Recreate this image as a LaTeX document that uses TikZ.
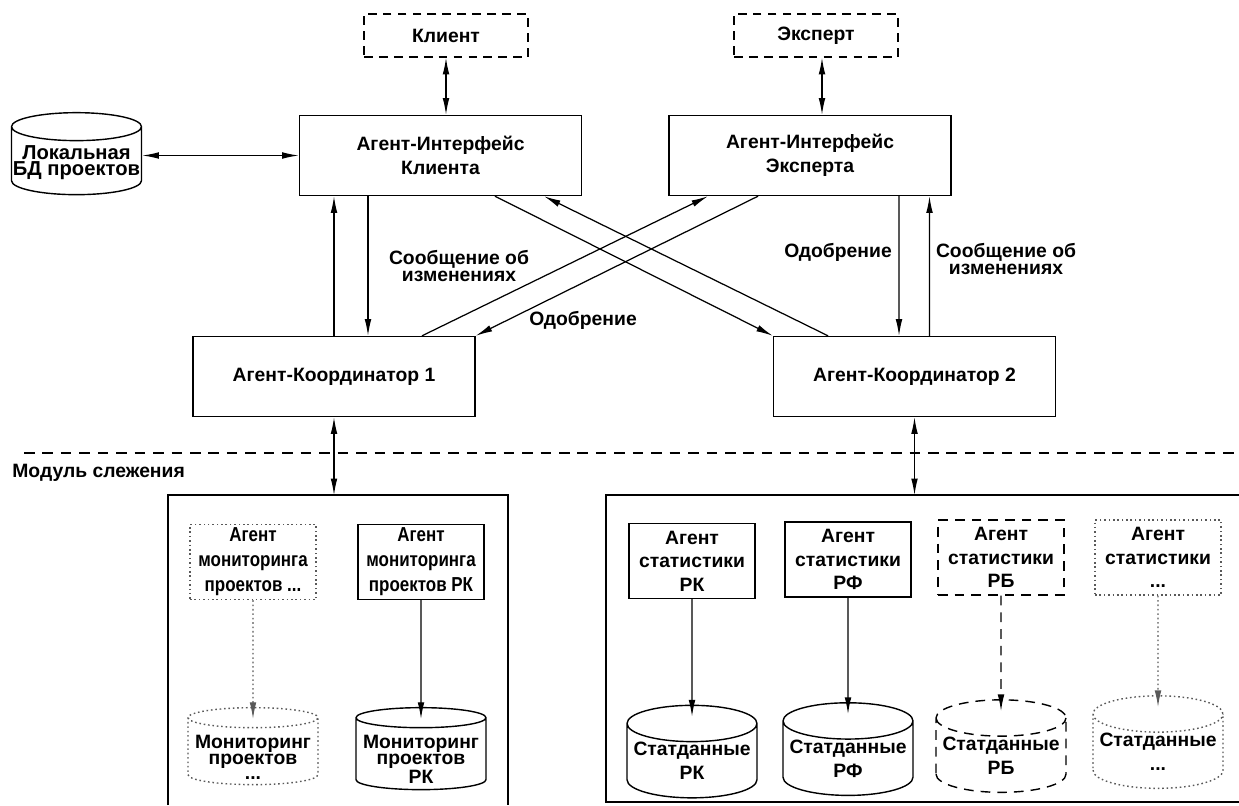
\documentclass[tikz,border=0pt]{standalone}
\usepackage{fontspec}
\setmainfont{Liberation Sans}
\newfontfamily\narrowfont{Liberation Sans}[FakeStretch=0.84]
\usetikzlibrary{calc}
\usetikzlibrary{positioning}
\usetikzlibrary{shapes.geometric}
\usetikzlibrary{arrows.meta}
\tikzstyle{bigbox} = [draw, rectangle, line width=0.8pt, minimum width=5.64cm, minimum height=1.6cm, align=center, font=\bfseries\fontsize{11}{13.6}\selectfont]
\tikzstyle{userbox} = [draw, rectangle, dash pattern=on 5pt off 3.5pt, line width=0.8pt, minimum width=3.28cm, minimum height=0.86cm, font=\bfseries\fontsize{11}{13}\selectfont]
\tikzstyle{smallbox} = [draw, rectangle, line width=0.8pt, minimum width=2.52cm, minimum height=1.5cm, align=center, inner sep=1pt, font=\bfseries\fontsize{11}{13.4}\selectfont]
\tikzstyle{monfont} = [font=\narrowfont\bfseries\fontsize{11.5}{14.2}\selectfont]
\tikzstyle{dbnode} = [draw, cylinder, shape border rotate=90, aspect=0.31, line width=0.8pt, minimum width=2.6cm, minimum height=1.56cm, align=center, inner sep=0pt, font=\bfseries\fontsize{11}{13.6}\selectfont]
\tikzstyle{dbtext} = [align=center, inner sep=0pt, font=\bfseries\fontsize{11}{9}\selectfont]
\tikzstyle{dashedline} = [dash pattern=on 5.5pt off 4pt]
\tikzstyle{dottedline} = [dash pattern=on 0.9pt off 1.6pt, draw=black!65]
\tikzstyle{msg} = [-{Latex[length=9.5pt,width=3.8pt]}, line width=0.7pt]
\tikzstyle{twoway} = [{Latex[length=9.5pt,width=3.8pt]}-{Latex[length=9.5pt,width=3.8pt]}, line width=0.7pt]
\tikzstyle{edgelabel} = [align=center, inner sep=0pt, font=\bfseries\fontsize{11}{9.6}\selectfont]
% invisible filler that sets the radius of a cylinder whose text is a label
\newcommand{\dbfill}{\rule{2.4cm}{0pt}}

\begin{document}
\begin{tikzpicture}[x=0.02cm, y=-0.02cm]
\useasboundingbox (0,0) rectangle (1239,805);

% users, interface agents, coordinators
\node[userbox] (client) at (446,35.5) {Клиент};
\node[userbox] (expert) at ($(client)+(370,0)$) {Эксперт};
\node[bigbox] (ifclient) at ($(client)+(-5.5,120)$) {Агент-Интерфейс\\Клиента};
\node[bigbox] (ifexpert) at ($(expert)+(-6,120)$) {Агент-Интерфейс\\Эксперта};
\node[dbnode, aspect=0.233, minimum height=1.64cm,
  label={[dbtext, name=localdbtext, yshift=-0.04cm, font=\bfseries\fontsize{11.5}{9}\selectfont]center:Локальная\\БД проектов}]
  (localdb) at ($(ifclient)+(-364,5.5)$) {\dbfill};
\node[bigbox] (coord1) at ($(ifclient)+(-106.5,221)$) {Агент-Координатор 1};
\node[bigbox] (coord2) at ($(coord1)+(580.5,0)$) {Агент-Координатор 2};

\draw[twoway] (client.south) -- (client.south |- ifclient.north);
\draw[twoway] ($(expert.south)+(6,0)$) -- ($(ifexpert.north)+(12,0)$);
\draw[twoway] (localdb.east |- ifclient) -- (ifclient.west);

% messages between interfaces and coordinators
\draw[msg] (coord1.north) -- (coord1.north |- ifclient.south);
\draw[msg] ($(ifclient.south)+(-72.5,0)$) -- ($(coord1.north)+(34,0)$);
\draw[msg] ($(ifexpert.south)+(89,0)$) -- ($(coord2.north)+(-15.5,0)$);
\draw[msg] ($(coord2.north)+(15,0)$) -- ($(ifexpert.south)+(119.5,0)$);
\draw[msg] ($(coord1.north)+(88,0)$) -- ($(ifexpert.south)+(-102,0)$);
\draw[msg] ($(ifexpert.south)+(-52,0)$) -- (coord1.north east);
\draw[msg] ($(ifclient.south)+(54.5,0)$) -- (coord2.north west);
\draw[msg] ($(coord2.north)+(-86.5,0)$) -- ($(ifclient.south)+(103.5,0)$);

\node[edgelabel] (changes1) at (459,266) {Сообщение об\\изменениях};
\node[edgelabel] (approve1) at (583,320) {Одобрение};
\node[edgelabel] (approve2) at (838,252) {Одобрение};
\node[edgelabel] (changes2) at (1006,259) {Сообщение об\\изменениях};

% tracking module
\draw[dash pattern=on 6pt off 4.5pt, line width=0.7pt] (24,453) -- (1239,453);
\node[anchor=west, inner sep=0pt, font=\bfseries\fontsize{11}{13}\selectfont] (tracking) at (12,473) {Модуль слежения};

\draw[line width=0.8pt] (168,805) |- (508,495) -- (508,805);
\draw[line width=0.8pt] (1239,495) -| (606,802) -- (1239,802);
\coordinate (leftframe) at ($(coord1.south)+(0,78)$);
\coordinate (rightframe) at ($(coord2.south)+(0,78)$);
\draw[twoway] (coord1.south) -- (leftframe);
\draw[twoway] (coord2.south) -- (rightframe);

% monitoring agents
\node[smallbox, monfont, dottedline] (monany) at (253,562) {Агент\\мониторинга\\проектов ...};
\node[smallbox, monfont] (monrk) at ($(monany)+(168,0)$) {Агент\\мониторинга\\проектов РК};
\node[dbnode, dottedline, aspect=0.167, minimum height=1.54cm,
  label={[dbtext, name=mondbanytext, yshift=-0.12cm]center:Мониторинг\\проектов\\...}]
  (mondbany) at ($(monany)+(0,189.5)$) {\dbfill};
\node[dbnode, aspect=0.167, minimum height=1.64cm,
  label={[dbtext, name=mondbrktext, yshift=-0.1cm]center:Мониторинг\\проектов\\РК}]
  (mondbrk) at ($(monrk)+(0,192)$) {\dbfill};
\draw[msg, dottedline] (monany) -- ($(mondbany.north)+(0,12)$);
\draw[msg] (monrk) -- ($(mondbrk.north)+(0,12)$);

% statistics agents
\node[smallbox] (strk) at (692,561) {Агент\\статистики\\РК};
\node[smallbox] (strf) at ($(strk)+(156,-1.5)$) {Агент\\статистики\\РФ};
\node[smallbox, dashedline] (strb) at ($(strf)+(153,-2)$) {Агент\\статистики\\РБ};
\node[smallbox, dottedline] (stany) at ($(strb)+(157,0)$) {Агент\\статистики\\...};
\node[dbnode] (sdbrk) at ($(strk)+(0,200)$) {Статданные\\РК};
\node[dbnode] (sdbrf) at ($(strf)+(0,199)$) {Статданные\\РФ};
\node[dbnode, dashedline] (sdbrb) at ($(strb)+(0,198)$) {Статданные\\РБ};
\node[dbnode, dottedline] (sdbany) at ($(stany)+(0,194)$) {Статданные\\...};
\draw[msg] (strk) -- ($(sdbrk.north)+(0,12)$);
\draw[msg] (strf) -- ($(sdbrf.north)+(0,12)$);
\draw[msg, dashedline] (strb) -- ($(sdbrb.north)+(0,12)$);
\draw[msg, dottedline] (stany) -- ($(sdbany.north)+(0,12)$);
\end{tikzpicture}
\end{document}
